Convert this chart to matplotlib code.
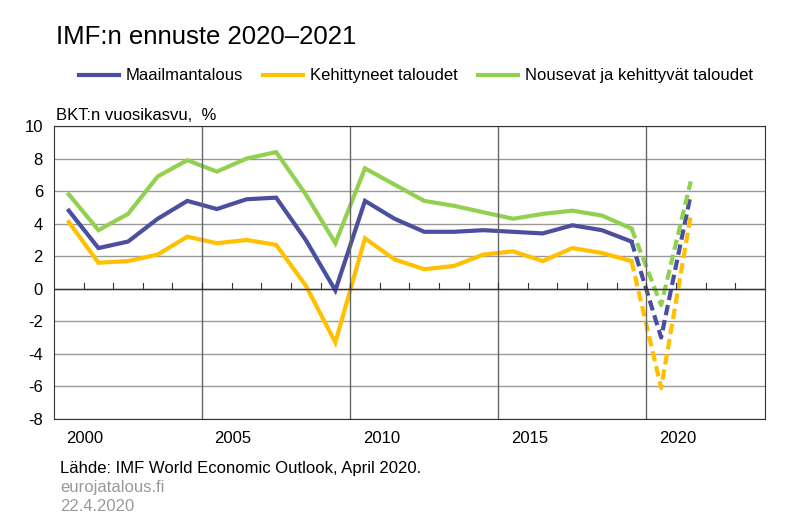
import matplotlib
matplotlib.use("Agg")
import matplotlib.pyplot as plt
import numpy as np

plt.rcParams['font.family'] = ['Liberation Sans', 'DejaVu Sans']
plt.rcParams['axes.unicode_minus'] = False

years = list(range(2000, 2022))
world = [4.8, 2.5, 2.9, 4.3, 5.4, 4.9, 5.5, 5.6, 3.0, -0.1, 5.4, 4.3, 3.5, 3.5, 3.6, 3.5, 3.4, 3.9, 3.6, 2.9, -3.0, 5.8]
advanced = [4.1, 1.6, 1.7, 2.1, 3.2, 2.8, 3.0, 2.7, 0.2, -3.3, 3.1, 1.8, 1.2, 1.4, 2.1, 2.3, 1.7, 2.5, 2.2, 1.7, -6.1, 4.5]
emerging = [5.8, 3.6, 4.6, 6.9, 7.9, 7.2, 8.0, 8.4, 5.8, 2.8, 7.4, 6.4, 5.4, 5.1, 4.7, 4.3, 4.6, 4.8, 4.5, 3.7, -1.0, 6.6]
names = ["Maailmantalous", "Kehittyneet taloudet", "Nousevat ja kehittyvät taloudet"]
colors = ["#4B4FA0", "#FFC000", "#92D050"]
tick_years = [2000, 2005, 2010, 2015, 2020]

fig = plt.figure(figsize=(8, 5.23), dpi=100)
ax = fig.add_axes([0.0675, 0.199, 0.8885, 0.56])
x = np.arange(len(years))
split = years.index(2019)
for s, c, n in zip([world, advanced, emerging], colors, names):
    ax.plot(x[:split+1], s[:split+1], color=c, lw=3, label=n, solid_joinstyle='miter')
    ax.plot(x[split:], s[split:], color=c, lw=3, ls=(0, (2.5, 1.2)))

ax.set_xlim(-0.5, 23.5)
ax.set_ylim(-8, 10)
ax.set_yticks(range(-8, 11, 2))
ax.tick_params(axis='y', length=0, labelsize=12, pad=8)
ax.set_xticks([])
ax.grid(axis='y', color='#999999', lw=1)
for b in [4.5, 9.5, 14.5, 19.5]:
    ax.axvline(b, color='#666666', lw=1)
ax.axhline(0, color='#333333', lw=1)
for i in range(24):
    ax.plot([i + 0.5, i + 0.5], [0, 0.35], color='#333333', lw=0.8)
for ty in tick_years:
    ax.text(years.index(ty) + 0.55, -8.75, str(ty), ha='center', va='top', fontsize=12)
for sp in ax.spines.values():
    sp.set_color('#333333')
ax.set_axisbelow(True)

fig.text(0.07, 0.93, "IMF:n ennuste 2020–2021", fontsize=18.5, va='center')
fig.text(0.07, 0.78, "BKT:n vuosikasvu,  %", fontsize=12, va='center')
fig.legend(loc='center', bbox_to_anchor=(0.52, 0.855), ncol=3, frameon=False, fontsize=12,
           handlelength=2.4, columnspacing=1.2, handletextpad=0.4)
fig.text(0.075, 0.105, "Lähde: IMF World Economic Outlook, April 2020.", fontsize=12, va='center')
fig.text(0.075, 0.068, "eurojatalous.fi", fontsize=12, va='center', color='#999999')
fig.text(0.075, 0.031, "22.4.2020", fontsize=12, va='center', color='#999999')
fig.savefig("out.png", dpi=100)
